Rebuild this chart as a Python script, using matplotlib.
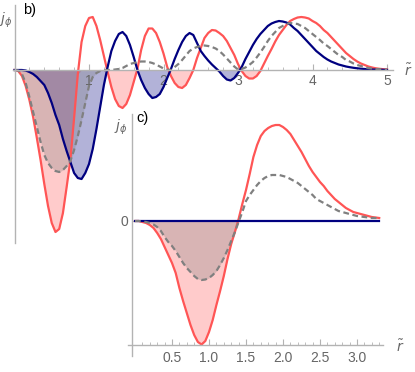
import numpy as np
import matplotlib.pyplot as plt

plt.rcParams['font.family'] = ['Liberation Sans', 'DejaVu Sans']
plt.rcParams['mathtext.fontset'] = 'dejavusans'

# ---- panel b) : samples every 0.05 in r~, from 0 to 5
r_b = np.round(np.arange(101) * 0.05, 2)
red_b = [0.00, -0.01, -0.06, -0.16, -0.30, -0.47, -0.68, -0.90, -1.14, -1.36,
         -1.53, -1.62, -1.59, -1.43, -1.17, -0.90, -0.48, -0.04, 0.28, 0.44,
         0.52, 0.53, 0.44, 0.30, 0.14, -0.02, -0.17, -0.29, -0.36, -0.38,
         -0.34, -0.25, -0.12, 0.01, 0.20, 0.34, 0.415, 0.415, 0.37, 0.28,
         0.165, 0.03, -0.06, -0.13, -0.17, -0.18, -0.15, -0.08, 0.00, 0.12,
         0.22, 0.32, 0.37, 0.40, 0.395, 0.37, 0.34, 0.29, 0.22, 0.15,
         0.06, -0.01, -0.06, -0.085, -0.085, -0.06, -0.01, 0.065, 0.14, 0.21,
         0.285, 0.35, 0.40, 0.45, 0.49, 0.51, 0.525, 0.53, 0.525, 0.515,
         0.49, 0.47, 0.44, 0.40, 0.37, 0.33, 0.29, 0.25, 0.21, 0.17,
         0.14, 0.11, 0.085, 0.065, 0.05, 0.035, 0.025, 0.017, 0.012, 0.008,
         0.005]
blue_b = [0.0, 0.0, 0.0, -0.005, -0.02, -0.04, -0.07, -0.11, -0.15, -0.23,
          -0.33, -0.45, -0.55, -0.69, -0.81, -0.92, -1.03, -1.08, -1.09, -1.03,
          -0.94, -0.79, -0.59, -0.37, -0.15, 0.03, 0.19, 0.29, 0.36, 0.38,
          0.34, 0.25, 0.13, 0.00, -0.10, -0.18, -0.24, -0.28, -0.27, -0.24,
          -0.17, -0.08, 0.01, 0.11, 0.20, 0.28, 0.34, 0.37, 0.35, 0.27,
          0.19, 0.14, 0.095, 0.055, 0.02, -0.015, -0.06, -0.095, -0.105, -0.08,
          -0.03, 0.03, 0.11, 0.18, 0.25, 0.31, 0.36, 0.40, 0.44, 0.465,
          0.48, 0.49, 0.485, 0.475, 0.455, 0.42, 0.39, 0.35, 0.31, 0.27,
          0.23, 0.19, 0.16, 0.13, 0.105, 0.085, 0.07, 0.055, 0.045, 0.035,
          0.028, 0.022, 0.017, 0.013, 0.01, 0.007, 0.005, 0.004, 0.003, 0.002,
          0.001]
gray_b = [0.0, -0.005, -0.04, -0.13, -0.27, -0.42, -0.57, -0.72, -0.85, -0.93,
          -0.98, -1.01, -1.02, -1.00, -0.96, -0.91, -0.80, -0.66, -0.50, -0.33,
          -0.16, -0.07, -0.03, -0.01, -0.005, 0.0, 0.0, 0.005, 0.01, 0.02,
          0.04, 0.06, 0.07, 0.08, 0.085, 0.085, 0.08, 0.07, 0.055, 0.035,
          0.015, 0.003, 0.0, 0.03, 0.06, 0.10, 0.145, 0.19, 0.215, 0.23,
          0.24, 0.245, 0.24, 0.23, 0.215, 0.19, 0.155, 0.115, 0.075, 0.035,
          0.005, 0.01, 0.025, 0.05, 0.08, 0.125, 0.175, 0.23, 0.29, 0.34,
          0.38, 0.42, 0.44, 0.46, 0.47, 0.465, 0.46, 0.44, 0.42, 0.39,
          0.36, 0.33, 0.30, 0.265, 0.24, 0.21, 0.18, 0.15, 0.13, 0.10,
          0.085, 0.065, 0.05, 0.04, 0.03, 0.02, 0.015, 0.01, 0.008, 0.005,
          0.003]

# ---- panel c) : samples every 0.05 in r~, from 0 to 3.3
r_c = np.round(np.arange(67) * 0.05, 2)
red_c = [0.00, 0.00, -0.01, -0.02, -0.04, -0.07, -0.12, -0.18, -0.26, -0.34,
         -0.42, -0.52, -0.67, -0.80, -0.92, -1.04, -1.14, -1.21, -1.235, -1.20,
         -1.11, -0.99, -0.84, -0.70, -0.55, -0.38, -0.23, -0.11, 0.02, 0.17,
         0.31, 0.47, 0.64, 0.76, 0.85, 0.90, 0.93, 0.95, 0.96, 0.96,
         0.94, 0.91, 0.87, 0.81, 0.75, 0.69, 0.62, 0.55, 0.49, 0.44,
         0.39, 0.35, 0.30, 0.26, 0.22, 0.19, 0.16, 0.13, 0.11, 0.09,
         0.08, 0.07, 0.06, 0.05, 0.04, 0.035, 0.03]
gray_c = [0.0, 0.0, -0.005, -0.01, -0.02, -0.035, -0.06, -0.10, -0.16, -0.21,
          -0.25, -0.30, -0.36, -0.42, -0.47, -0.51, -0.55, -0.58, -0.59, -0.585,
          -0.57, -0.54, -0.50, -0.44, -0.37, -0.29, -0.20, -0.11, -0.01, 0.09,
          0.20, 0.26, 0.31, 0.36, 0.40, 0.43, 0.45, 0.46, 0.46, 0.46,
          0.45, 0.44, 0.42, 0.40, 0.38, 0.35, 0.32, 0.29, 0.26, 0.22,
          0.20, 0.18, 0.16, 0.14, 0.12, 0.10, 0.09, 0.08, 0.07, 0.06,
          0.05, 0.045, 0.04, 0.035, 0.03, 0.03, 0.03]
blue_c = [0.0] * 67

RED = '#ff5555'
NAVY = '#000080'
GRAY = '#808080'
AXIS = '#b3b3b3'
TICKTXT = '#666666'

W, H = 415, 372
fig = plt.figure(figsize=(W / 100, H / 100), dpi=100)


def draw_panel(ax, r, red, blue, gray):
    red, blue, gray = np.array(red), np.array(blue), np.array(gray)
    ax.fill_between(r, np.minimum(red, 0), 0, color=RED, alpha=0.3, lw=0)
    ax.fill_between(r, np.minimum(blue, 0), 0, color=NAVY, alpha=0.3, lw=0)
    ax.fill_between(r, np.minimum(gray, 0), 0, color=GRAY, alpha=0.3, lw=0)
    ax.plot(r, red, color=RED, lw=1.6)
    ax.plot(r, blue, color=NAVY, lw=1.6)
    ax.plot(r, gray, color=GRAY, lw=1.6, ls=(0, (2.6, 1.6)))
    for s in ['top', 'right']:
        ax.spines[s].set_visible(False)
    for s in ['left', 'bottom']:
        ax.spines[s].set_color(AXIS)
        ax.spines[s].set_linewidth(1.0)
    ax.tick_params(which='both', direction='in', colors=AXIS,
                   labelcolor=TICKTXT, labelsize=10)
    ax.tick_params(which='major', length=4)
    ax.tick_params(which='minor', length=2)


# panel b): pixel x = 14.5 + 74.5 r, pixel y = 70 - 100 j
ax_b = fig.add_axes([0, 0, 1, 1])
ax_b.set_xlim(-14.5 / 74.5, (W - 14.5) / 74.5)
ax_b.set_ylim((70 - H) / 100, 70 / 100)
draw_panel(ax_b, r_b, red_b, blue_b, gray_b)
ax_b.spines['left'].set_position(('data', 0))
ax_b.spines['left'].set_bounds((70 - 243) / 100, (70 - 5) / 100)
ax_b.spines['bottom'].set_position(('data', 0))
ax_b.spines['bottom'].set_bounds(-1.5 / 74.5, (393 - 14.5) / 74.5)
ax_b.set_xticks([1, 2, 3, 4, 5])
ax_b.set_xticks([v / 5 for v in range(1, 25) if v % 5], minor=True)
ax_b.set_yticks([])
ax_b.tick_params(axis='x', pad=3)

# panel c): pixel x = 135 + 74 r, pixel y = 221 - 100 j
ax_c = fig.add_axes([0, 0, 1, 1])
ax_c.patch.set_visible(False)
ax_c.set_xlim(-135 / 74, (W - 135) / 74)
ax_c.set_ylim((221 - H) / 100, 221 / 100)
draw_panel(ax_c, r_c, red_c, blue_c, gray_c)
ax_c.spines['left'].set_position(('data', -3 / 74))
ax_c.spines['left'].set_bounds((221 - 356) / 100, (221 - 114) / 100)
ax_c.spines['bottom'].set_position(('data', -1.24))
ax_c.spines['bottom'].set_bounds(-7 / 74, 248 / 74)
ax_c.set_xticks([0.5, 1.0, 1.5, 2.0, 2.5, 3.0])
ax_c.set_xticklabels(['0.5', '1.0', '1.5', '2.0', '2.5', '3.0'])
ax_c.set_xticks([v / 10 for v in range(1, 34) if v % 5], minor=True)
ax_c.set_yticks([0])
ax_c.set_yticklabels(['0'])
ax_c.tick_params(axis='x', pad=4)
ax_c.tick_params(axis='y', pad=3)

# labels (positions in pixels)
def put(px, py, s, **kw):
    fig.text(px / W, 1 - py / H, s, ha='center', va='center', **kw)

put(30, 10, 'b)', fontsize=10.5, color='black')
put(142, 118, 'c)', fontsize=10.5, color='black')
put(6, 20, r'$j_\phi$', fontsize=10, color=TICKTXT)
put(121, 127, r'$j_\phi$', fontsize=10, color=TICKTXT)
put(408, 71, r'$\tilde{r}$', fontsize=10, color=TICKTXT)
put(400, 347, r'$\tilde{r}$', fontsize=10, color=TICKTXT)

fig.savefig('out.png', dpi=100)
